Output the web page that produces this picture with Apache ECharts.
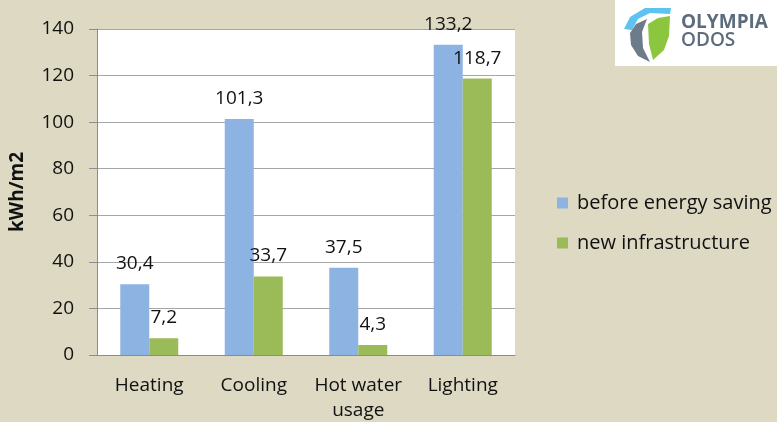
<!DOCTYPE html>
<html>
<head>
<meta charset="utf-8">
<script src="https://cdn.jsdelivr.net/npm/echarts@6/dist/echarts.min.js"></script>
<style>
  html, body { margin: 0; padding: 0; background: #ddd9c3; }
  #chart { width: 777px; height: 422px; }
</style>
</head>
<body>
<div id="chart"></div>
<script>
const categories = ['Heating', 'Cooling', 'Hot water\nusage', 'Lighting']
const beforeSaving = [30.4, 101.3, 37.5, 133.2]
const newInfra = [7.2, 33.7, 4.3, 118.7]
const seriesNames = ['before energy saving', 'new infrastructure']
const colorList = ['#8db3e2', '#9bbb59']

const font = '"Open Sans", Lato, sans-serif'
const chart = echarts.init(document.getElementById('chart'))

// numbers use a decimal comma like the original
const comma = p => String(p.value).replace('.', ',')

const barLabel = {
  show: true,
  position: 'top',
  distance: 11,
  fontSize: 19,
  fontFamily: font,
  color: '#111',
  formatter: comma,
}

chart.setOption({
  backgroundColor: '#ddd9c3',
  textStyle: { fontFamily: font },
  grid: {
    left: 97, right: 262, top: 29, bottom: 67,
    outerBoundsMode: 'none',
    show: true, backgroundColor: '#fff', borderWidth: 0,
  },
  legend: {
    orient: 'vertical',
    left: 552,
    top: 188,
    icon: 'rect',
    itemWidth: 11,
    itemHeight: 11,
    itemGap: 20,
    textStyle: { fontSize: 20, color: '#111', fontFamily: font, padding: [0, 0, 0, 4] },
    data: seriesNames,
  },
  xAxis: {
    type: 'category',
    data: categories,
    axisLine: { lineStyle: { color: '#8c8c8c', width: 1 } },
    axisTick: { show: false },
    axisLabel: { fontSize: 19, color: '#111', margin: 18, lineHeight: 25, interval: 0 },
  },
  yAxis: {
    type: 'value',
    min: 0,
    max: 140,
    interval: 20,
    name: 'kWh/m2',
    nameLocation: 'middle',
    nameRotate: 90,
    nameGap: 70,
    nameTextStyle: { fontSize: 19, fontWeight: 'bold', color: '#111' },
    axisLine: { show: true, lineStyle: { color: '#8c8c8c' } },
    axisTick: { show: true, length: 8, lineStyle: { color: '#8c8c8c' } },
    axisLabel: { fontSize: 19, color: '#111', margin: 23 },
    splitLine: { lineStyle: { color: '#a6a6a6' } },
  },
  series: [
    {
      name: seriesNames[0],
      type: 'bar',
      data: beforeSaving,
      barWidth: 29,
      barGap: '0%',
      itemStyle: { color: colorList[0] },
      label: barLabel,
    },
    {
      name: seriesNames[1],
      type: 'bar',
      data: newInfra,
      barWidth: 29,
      itemStyle: { color: colorList[1] },
      label: barLabel,
    },
  ],
  // logo box, top right
  graphic: [
    { type: 'rect', shape: { x: 615, y: 0, width: 162, height: 66 }, style: { fill: '#fff' } },
    { type: 'polygon', shape: { points: [[624, 29], [630, 17], [645, 8], [671, 8], [670, 14], [650, 13], [638, 19], [632, 30]] }, style: { fill: '#5ec3ee' } },
    { type: 'polygon', shape: { points: [[648, 24], [658, 18], [670, 16], [669, 36], [664, 50], [653, 60], [649, 44]] }, style: { fill: '#8cc63f' } },
    { type: 'polygon', shape: { points: [[630, 33], [636, 24], [647, 19], [642, 32], [643, 48], [650, 62], [638, 56], [631, 45]] }, style: { fill: '#6c7c8a' } },
    { type: 'text', x: 681, y: 13, style: { text: 'OLYMPIA', fontSize: 19, fontWeight: 'bold', fill: '#5c6c7c', fontFamily: 'Open Sans, sans-serif' } },
    { type: 'text', x: 681, y: 31, style: { text: 'ODOS', fontSize: 19, fontWeight: 600, fill: '#5c6c7c', fontFamily: 'Open Sans, sans-serif' } },
  ],
})
</script>
</body>
</html>
